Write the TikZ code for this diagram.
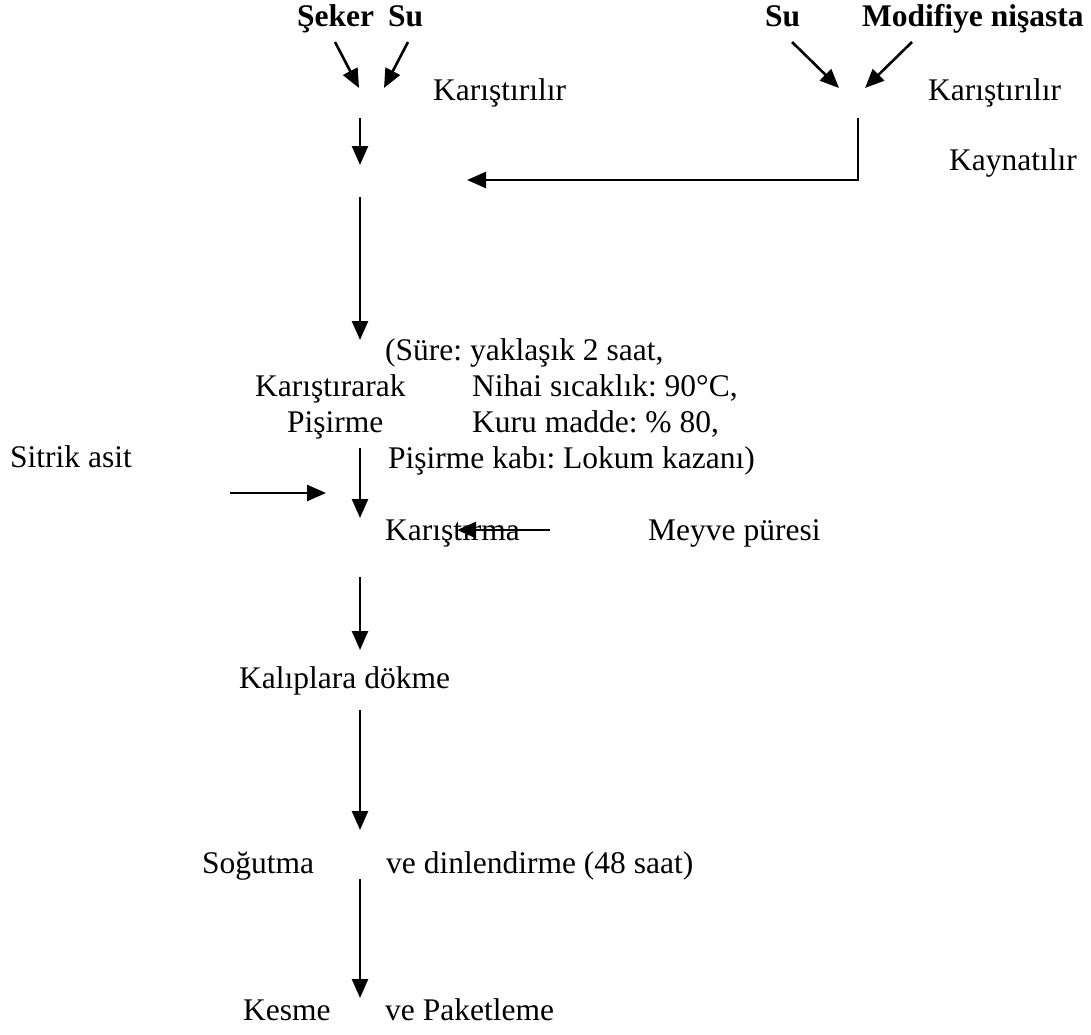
\documentclass[tikz,border=0pt]{standalone}
\usepackage{fontspec}
\setmainfont{Liberation Serif}
\usetikzlibrary{arrows.meta}
\frenchspacing
\begin{document}
\begin{tikzpicture}[x=1pt,y=-1pt,
  lbl/.style={anchor=base west, inner sep=0pt, font=\fontsize{31.5}{36}\selectfont},
  blbl/.style={anchor=base west, inner sep=0pt, font=\fontsize{31.5}{36}\selectfont\bfseries},
  flow/.style={line width=2.6pt, -{Triangle[width=16pt,length=19pt]}},
  plainline/.style={line width=2.6pt}]
\useasboundingbox (0,0) rectangle (1091,1034);

% top labels
\node[blbl] (seker) at (297,26) {Şeker};
\node[blbl] (su1) at (388,26) {Su};
\node[blbl] (su2) at (765,26) {Su};
\node[blbl] (nisasta) at (862,26) {Modifiye nişasta};
\node[lbl] (kar1) at (433,100) {Karıştırılır};
\node[lbl] (kar2) at (928,100) {Karıştırılır};
\node[lbl] (kayn) at (949,170) {Kaynatılır};

% cooking block
\node[lbl] (sure) at (385,360) {(Süre: yaklaşık 2 saat,};
\node[lbl] (karistirarak) at (255,396) {Karıştırarak};
\node[lbl] (nihai) at (472,396) {Nihai sıcaklık: 90°C,};
\node[lbl] (pisirme) at (287,432) {Pişirme};
\node[lbl] (kuru) at (472,432) {Kuru madde: \% 80,};
\node[lbl] (kap) at (388,468) {Pişirme kabı: Lokum kazanı)};
\node[lbl] (sitrik) at (10,467) {Sitrik asit};
\node[lbl] (karistirma) at (385,540) {Karıştırma};
\node[lbl] (meyve) at (648,540) {Meyve püresi};
\node[lbl] (kalip) at (239,688) {Kalıplara dökme};
\node[lbl] (sogutma) at (202,873) {Soğutma};
\node[lbl] (dinlen) at (386,873) {ve dinlendirme (48 saat)};
\node[lbl] (kesme) at (243,1020) {Kesme};
\node[lbl] (paket) at (385,1020) {ve Paketleme};

% arrow end points
\coordinate (a1s) at (335,42);  \coordinate (a1e) at (359,88);
\coordinate (a2s) at (408,42);  \coordinate (a2e) at (384,88);
\coordinate (a3s) at (792,42);  \coordinate (a3e) at (839,88);
\coordinate (a4s) at (912,42);  \coordinate (a4e) at (865,88);
\coordinate (d1s) at (360,118); \coordinate (d1e) at (360,165);
\coordinate (r1) at (858,118);  \coordinate (r2) at (858,180);
\coordinate (r3) at (467,180);
\coordinate (d2s) at (360,197); \coordinate (d2e) at (360,340);
\coordinate (d3s) at (360,448); \coordinate (d3e) at (360,518);
\coordinate (s1) at (230,493);  \coordinate (s2) at (326,493);
\coordinate (m1) at (550,530);  \coordinate (m2) at (457,530);
\coordinate (d4s) at (360,577); \coordinate (d4e) at (360,650);
\coordinate (d5s) at (360,710); \coordinate (d5e) at (360,830);
\coordinate (d6s) at (360,879); \coordinate (d6e) at (360,998);

\draw[flow] (a1s) -- (a1e);
\draw[flow] (a2s) -- (a2e);
\draw[flow] (a3s) -- (a3e);
\draw[flow] (a4s) -- (a4e);
\draw[flow] (d1s) -- (d1e);
\draw[flow] (r1) -- (r2) -- (r3);
\draw[flow] (d2s) -- (d2e);
\draw[flow] (d3s) -- (d3e);
\draw[flow] (s1) -- (s2);
\draw[flow] (m1) -- (m2);
\draw[flow] (d4s) -- (d4e);
\draw[flow] (d5s) -- (d5e);
\draw[flow] (d6s) -- (d6e);
\end{tikzpicture}
\end{document}
